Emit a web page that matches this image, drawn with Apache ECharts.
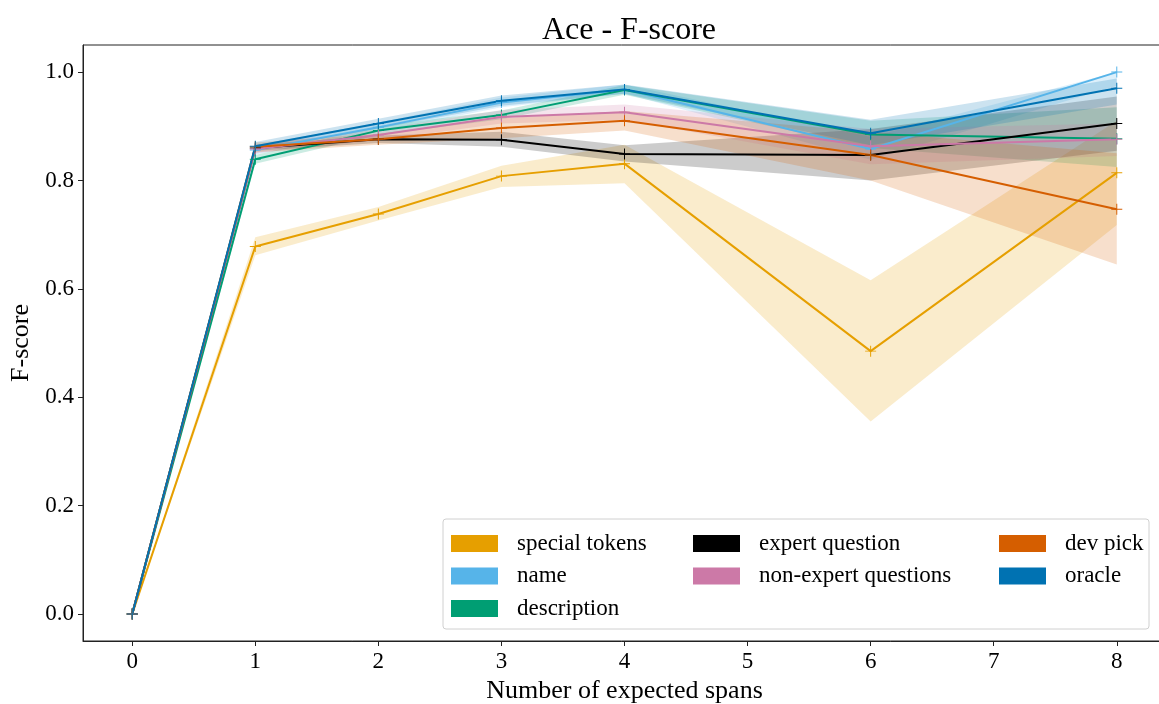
<!DOCTYPE html>
<html>
<head>
<meta charset="utf-8">
<script src="https://cdn.jsdelivr.net/npm/echarts@6/dist/echarts.min.js"></script>
<style>html,body{margin:0;padding:0;background:#fff;}#c{width:1159px;height:704px;}</style>
</head>
<body>
<div id="c"></div>
<script>
const xs = [0, 1, 2, 3, 4, 6, 8];
const xTicks = [0, 1, 2, 3, 4, 5, 6, 7, 8];
const yTicks = [0, 0.2, 0.4, 0.6, 0.8, 1.0];
const seriesNames = ['special tokens', 'name', 'description', 'expert question', 'non-expert questions', 'dev pick', 'oracle'];
const colors = ['#E69F00', '#56B4E9', '#009E73', '#000000', '#CC79A7', '#D55E00', '#0072B2'];

const specialTokens = [0, 0.678, 0.738, 0.808, 0.831, 0.485, 0.814];
const specialTokensLo = [0, 0.662, 0.726, 0.788, 0.795, 0.355, 0.718];
const specialTokensHi = [0, 0.695, 0.751, 0.827, 0.866, 0.616, 0.910];

const nameVals = [0, 0.856, 0.898, 0.944, 0.968, 0.858, 1.0];
const nameLo = [0, 0.848, 0.890, 0.935, 0.960, 0.838, 0.975];
const nameHi = [0, 0.865, 0.907, 0.953, 0.977, 0.880, 1.0];

const description = [0, 0.839, 0.892, 0.921, 0.967, 0.885, 0.877];
const descriptionLo = [0, 0.831, 0.884, 0.913, 0.958, 0.860, 0.825];
const descriptionHi = [0, 0.847, 0.900, 0.929, 0.976, 0.910, 0.935];

const expertQuestion = [0, 0.860, 0.876, 0.875, 0.849, 0.847, 0.905];
const expertQuestionLo = [0, 0.855, 0.869, 0.862, 0.835, 0.800, 0.855];
const expertQuestionHi = [0, 0.866, 0.883, 0.890, 0.865, 0.895, 0.955];

const nonExpert = [0, 0.858, 0.884, 0.917, 0.926, 0.863, 0.876];
const nonExpertLo = [0, 0.850, 0.874, 0.905, 0.912, 0.830, 0.845];
const nonExpertHi = [0, 0.866, 0.894, 0.930, 0.940, 0.895, 0.905];

const devPick = [0, 0.862, 0.876, 0.897, 0.910, 0.847, 0.747];
const devPickLo = [0, 0.852, 0.866, 0.878, 0.892, 0.800, 0.645];
const devPickHi = [0, 0.870, 0.886, 0.915, 0.928, 0.890, 0.850];

const oracle = [0, 0.863, 0.905, 0.947, 0.968, 0.887, 0.970];
const oracleLo = [0, 0.855, 0.896, 0.938, 0.960, 0.865, 0.940];
const oracleHi = [0, 0.871, 0.914, 0.957, 0.977, 0.912, 0.988];

const mains = [specialTokens, nameVals, description, expertQuestion, nonExpert, devPick, oracle];
const los = [specialTokensLo, nameLo, descriptionLo, expertQuestionLo, nonExpertLo, devPickLo, oracleLo];
const his = [specialTokensHi, nameHi, descriptionHi, expertQuestionHi, nonExpertHi, devPickHi, oracleHi];

const FONT = 'Liberation Serif';
const plusPath = 'path://M-0.09,-1 H0.09 V-0.09 H1 V0.09 H0.09 V1 H-0.09 V0.09 H-1 V-0.09 H-0.09 Z';

function hexToRgba(hex, a) {
  const n = parseInt(hex.slice(1), 16);
  return 'rgba(' + ((n >> 16) & 255) + ',' + ((n >> 8) & 255) + ',' + (n & 255) + ',' + a + ')';
}

const series = [];
mains.forEach((vals, k) => {
  const lo = los[k], hi = his[k];
  series.push({
    type: 'custom',
    name: seriesNames[k] + ' band',
    coordinateSystem: 'cartesian2d',
    silent: true,
    z: 1,
    data: xs.map((x, i) => [x, lo[i], hi[i]]),
    encode: { x: 0, y: [1, 2] },
    renderItem: function (params, api) {
      if (params.dataIndex !== 0) return null;
      const pts = [];
      for (let i = 0; i < xs.length; i++) pts.push(api.coord([xs[i], hi[i]]));
      for (let i = xs.length - 1; i >= 0; i--) pts.push(api.coord([xs[i], lo[i]]));
      return {
        type: 'polygon',
        shape: { points: pts },
        style: { fill: hexToRgba(colors[k], 0.2), stroke: null }
      };
    }
  });
});
mains.forEach((vals, k) => {
  series.push({
    type: 'line',
    name: seriesNames[k],
    z: 3,
    data: xs.map((x, i) => [x, vals[i]]),
    color: colors[k],
    symbol: plusPath,
    symbolSize: 11,
    showSymbol: true,
    lineStyle: { width: 2, color: colors[k] },
    itemStyle: { color: colors[k] }
  });
});

function legendCol(names, left) {
  return {
    show: true,
    z: 60,
    zlevel: 0,
    orient: 'vertical',
    left: left,
    top: 532,
    padding: 0,
    itemWidth: 47,
    itemHeight: 17,
    itemGap: 9.5,
    icon: 'rect',
    selectedMode: false,
    data: names,
    textStyle: { fontFamily: FONT, fontSize: 23, color: '#000', lineHeight: 23, padding: [0, 0, 0, 14] }
  };
}

const option = {
  animation: false,
  backgroundColor: '#fff',
  title: {
    text: 'Ace - F-score',
    left: 624,
    textAlign: 'center',
    top: 10,
    textStyle: { fontFamily: FONT, fontSize: 32, fontWeight: 'normal', color: '#000' }
  },
  grid: { left: 83, width: 1083, top: 45, height: 596, outerBoundsMode: 'none', containLabel: false, show: true, borderColor: '#222', borderWidth: 1, backgroundColor: 'transparent' },
  legend: [
    legendCol(['special tokens', 'name', 'description'], 451),
    legendCol(['expert question', 'non-expert questions'], 693),
    legendCol(['dev pick', 'oracle'], 999)
  ],
  graphic: [{
    type: 'rect',
    shape: { x: 443, y: 519, width: 706, height: 110, r: 3 },
    style: { fill: 'rgba(255,255,255,0.8)', stroke: '#d0d0d0', lineWidth: 1 },
    z: 50
  }],
  xAxis: {
    type: 'value',
    min: -0.4,
    max: 8.4,
    name: 'Number of expected spans',
    nameLocation: 'middle',
    nameGap: 37,
    nameTextStyle: { fontFamily: FONT, fontSize: 26, color: '#000' },
    axisLine: { show: true, onZero: false, lineStyle: { color: '#222', width: 1 } },
    axisTick: { show: true, customValues: xTicks, length: 5, lineStyle: { color: '#222' } },
    axisLabel: { customValues: xTicks, fontFamily: FONT, fontSize: 23, color: '#000', margin: 9, formatter: v => String(v) },
    splitLine: { show: false }
  },
  yAxis: {
    type: 'value',
    min: -0.05,
    max: 1.05,
    name: 'F-score',
    nameLocation: 'middle',
    nameGap: 42,
    nameTextStyle: { fontFamily: FONT, fontSize: 26, color: '#000' },
    axisLine: { show: true, onZero: false, lineStyle: { color: '#222', width: 1 } },
    axisTick: { show: true, customValues: yTicks, length: 5, lineStyle: { color: '#222' } },
    axisLabel: { customValues: yTicks, fontFamily: FONT, fontSize: 23, color: '#000', margin: 9, formatter: v => v.toFixed(1) },
    splitLine: { show: false }
  },
  series: series
};

const chart = echarts.init(document.getElementById('c'), null, { renderer: 'canvas' });
chart.setOption(option);
</script>
</body>
</html>
